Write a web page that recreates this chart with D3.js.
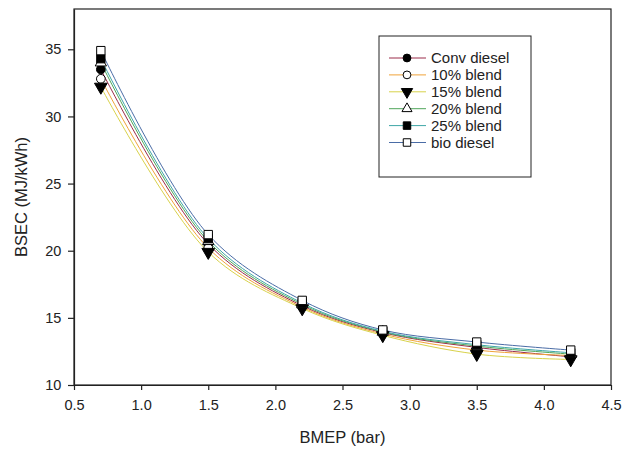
<!DOCTYPE html>
<html>
<head>
<meta charset="utf-8">
<script src="https://cdn.jsdelivr.net/npm/d3@7"></script>
<style>
    body { margin: 0; background: #fff; }
    text { font-family: "Liberation Sans", Arial, sans-serif; fill: #222; }
</style>
</head>
<body>
<div id="chart"></div>
<script>
    // BMEP values (bar)
    var bmep = [0.7, 1.5, 2.2, 2.8, 3.5, 4.2];

    var seriesNames = ["Conv diesel", "10% blend", "15% blend", "20% blend", "25% blend", "bio diesel"];

    // BSEC (MJ/kWh) per series
    var convDiesel = [33.5, 20.5, 15.9, 13.9, 12.8, 12.1];
    var blend10    = [32.8, 20.2, 15.8, 13.8, 12.6, 12.2];
    var blend15    = [32.2, 19.9, 15.7, 13.7, 12.3, 11.9];
    var blend20    = [34.0, 20.7, 16.0, 13.95, 12.9, 12.3];
    var blend25    = [34.3, 20.9, 16.1, 14.0, 13.0, 12.4];
    var bioDiesel  = [34.9, 21.2, 16.3, 14.1, 13.2, 12.6];

    var xTicks = [0.5, 1.0, 1.5, 2.0, 2.5, 3.0, 3.5, 4.0, 4.5];
    var yTicks = [10, 15, 20, 25, 30, 35];

    var allValues = [convDiesel, blend10, blend15, blend20, blend25, bioDiesel];
    var lineColors = ["#9b2c4a", "#f0a33a", "#d8d24a", "#4fa65a", "#3ea6a6", "#4a6ca6"];
    var symbols = [
        {type: d3.symbolCircle, fill: "#000", size: 60},
        {type: d3.symbolCircle, fill: "#fff", size: 60},
        {type: "tri", fill: "#000", size: 70},
        {type: d3.symbolTriangle, fill: "#fff", size: 55},
        {type: d3.symbolSquare, fill: "#000", size: 70},
        {type: d3.symbolSquare, fill: "#fff", size: 70}
    ];

    var width = 631, height = 452;
    var margin = {left: 74, right: 20, top: 9, bottom: 67};

    var svg = d3.select("#chart").append("svg")
        .attr("width", width)
        .attr("height", height);

    var x = d3.scaleLinear().domain([0.5, 4.5]).range([margin.left, width - margin.right]);
    var y = d3.scaleLinear().domain([10, 38]).range([height - margin.bottom, margin.top]);

    function symbolPath(s) {
        if (s.type === "tri") {
            return d3.symbol().type(d3.symbolTriangle).size(s.size)();
        }
        return d3.symbol().type(s.type).size(s.size)();
    }

    // frame
    svg.append("rect")
        .attr("x", x(0.5)).attr("y", y(38))
        .attr("width", x(4.5) - x(0.5)).attr("height", y(10) - y(38))
        .attr("fill", "none").attr("stroke", "#222").attr("stroke-width", 1.2);

    var xAxis = svg.append("g")
        .attr("transform", "translate(0," + y(10) + ")")
        .call(d3.axisBottom(x).tickValues(xTicks).tickFormat(d3.format(".1f")).tickSize(5).tickSizeOuter(0));
    var yAxis = svg.append("g")
        .attr("transform", "translate(" + x(0.5) + ",0)")
        .call(d3.axisLeft(y).tickValues(yTicks).tickSize(6).tickSizeOuter(0));

    [xAxis, yAxis].forEach(function(a) {
        a.select(".domain").attr("stroke", "#222").attr("stroke-width", 1.2);
        a.selectAll(".tick line").attr("stroke", "#222").attr("stroke-width", 1.2);
        a.selectAll("text").attr("font-size", 14.5).attr("fill", "#222")
            .style("font-family", "'Liberation Sans', Arial, sans-serif");
    });
    xAxis.selectAll("text").attr("dy", "1.2em");
    yAxis.selectAll("text").attr("dx", "-0.25em");

    svg.append("text")
        .attr("x", (x(0.5) + x(4.5)) / 2)
        .attr("y", 443)
        .attr("text-anchor", "middle")
        .attr("font-size", 16.5)
        .text("BMEP (bar)");

    svg.append("text")
        .attr("transform", "translate(27," + y(24) + ") rotate(-90)")
        .attr("text-anchor", "middle")
        .attr("font-size", 16.5)
        .text("BSEC (MJ/kWh)");

    var line = d3.line()
        .x(function(d) { return x(d[0]); })
        .y(function(d) { return y(d[1]); })
        .curve(d3.curveCatmullRom.alpha(0.5));

    // draw lines first, markers on top
    allValues.forEach(function(vals, i) {
        var pts = bmep.map(function(b, j) { return [b, vals[j]]; });
        svg.append("path")
            .datum(pts)
            .attr("d", line)
            .attr("fill", "none")
            .attr("stroke", lineColors[i])
            .attr("stroke-width", 1);
    });

    allValues.forEach(function(vals, i) {
        var s = symbols[i];
        svg.selectAll(".m" + i)
            .data(bmep.map(function(b, j) { return [b, vals[j]]; }))
            .enter()
            .append("path")
            .attr("class", "m" + i)
            .attr("d", symbolPath(s))
            .attr("transform", function(d) {
                return "translate(" + x(d[0]) + "," + y(d[1]) + ")" + (s.type === "tri" ? " rotate(180)" : "");
            })
            .attr("fill", s.fill)
            .attr("stroke", "#000")
            .attr("stroke-width", 1);
    });

    // legend
    var lg = svg.append("g");
    lg.append("rect")
        .attr("x", 379).attr("y", 36)
        .attr("width", 152).attr("height", 141)
        .attr("fill", "#fff").attr("stroke", "#222").attr("stroke-width", 1);

    seriesNames.forEach(function(name, i) {
        var ly = 58 + i * 16.9;
        lg.append("line")
            .attr("x1", 389).attr("x2", 426)
            .attr("y1", ly).attr("y2", ly)
            .attr("stroke", lineColors[i]).attr("stroke-width", 1);
        var s = symbols[i];
        lg.append("path")
            .attr("d", symbolPath({type: s.type, size: s.size * 0.8}))
            .attr("transform", "translate(407," + ly + ")" + (s.type === "tri" ? " rotate(180)" : ""))
            .attr("fill", s.fill).attr("stroke", "#000").attr("stroke-width", 1);
        lg.append("text")
            .attr("x", 431).attr("y", ly)
            .attr("dy", "0.35em")
            .attr("font-size", 15)
            .text(name);
    });
</script>
</body>
</html>
